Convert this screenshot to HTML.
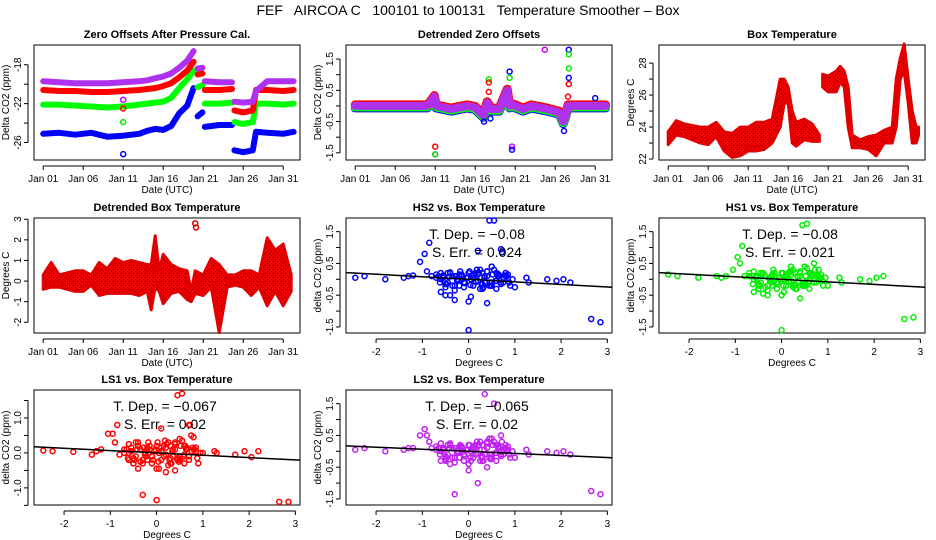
<!DOCTYPE html>
<html><head><meta charset="utf-8"><style>
body{margin:0;background:#fff}
svg{display:block;font-family:"Liberation Sans",sans-serif}
</style></head><body>
<svg id="c" width="936" height="540" xmlns="http://www.w3.org/2000/svg">
<defs>
<pattern id="dots" width="4" height="4" patternUnits="userSpaceOnUse"><rect width="4" height="4" fill="#e80000"/><rect x="1" y="1" width="1" height="1" fill="#300"/><rect x="3" y="3" width="1" height="1" fill="#600"/></pattern>
</defs>
<text x="468" y="15" font-size="14" text-anchor="middle" style="white-space:pre">FEF   AIRCOA C   100101 to 100131   Temperature Smoother – Box</text>
</svg>
<script>
// ---- Panel 1: zero offsets ----
const days1=[0,2,4,6,8,10,12,13,14,15,16,17,18,18.8,19.1,19.3,19.9,20.05,20.2,22,23.6,23.75,23.9,25,26.2,26.6,28,30,31.3];
const zoBlue=[-25.1,-25.0,-25.2,-25.0,-25.4,-25.3,-25.1,-24.8,-24.6,-24.7,-24.3,-23.0,-22.2,-20.4,null,-23.3,-22.9,null,-24.4,-24.2,-24.2,null,-26.8,-27.0,-26.8,-24.9,-25.0,-25.1,-24.9];
const zoGreen=[-22.1,-22.1,-22.2,-22.3,-22.4,-22.3,-22.1,-22.0,-21.9,-21.8,-21.4,-20.4,-19.5,-18.6,null,-20.3,-20.1,null,-22.0,-22.0,-21.9,null,-23.9,-24.1,-23.9,-22.0,-22.0,-22.1,-22.0];
const zoRed=[-20.6,-20.7,-20.7,-20.8,-20.8,-20.7,-20.6,-20.5,-20.4,-20.2,-19.9,-19.3,-18.6,-17.7,null,-19.0,-18.9,null,-20.6,-20.6,-20.5,null,-22.7,-22.9,-22.7,-20.6,-20.6,-20.7,-20.6];
const zoMag=[-19.7,-19.8,-19.9,-19.9,-19.9,-19.8,-19.7,-19.6,-19.4,-19.2,-18.9,-18.3,-17.6,-16.6,null,-18.4,-18.3,null,-19.7,-19.8,-19.8,null,-21.8,-21.9,-21.8,-20.7,-19.7,-19.7,-19.7];
const zoOutDay=[10,10,10,10];
const zoOutVal=[-27.2,-23.9,-22.5,-21.6];
// ---- Panel 2: detrended zero offsets ----
const days2=[0,2,4,6,8,9,9.5,9.9,10.1,12,14,15,16,16.5,17,18,18.5,19,19.3,19.5,20,21,22,24,25.5,26,26.3,26.6,27,29,31.3];
const detMag=[0,0,0,0,0,0,0.15,0.3,0,-0.1,0,-0.05,-0.3,0.1,-0.1,-0.1,0.2,0.5,0,0.05,0,-0.1,0,-0.1,-0.2,-0.5,-0.3,0,0,0,0];
const detSpikeDay=[10,10,16.1,16.7,16.7,16.7,16.9,19.3,19.3,19.6,19.6,23.7,26.7,26.7,26.7,26.7,26.7,26.6,26.1,30];
const detSpikeVal=[-1.3,-1.55,-0.5,0.85,0.75,0.45,-0.4,1.1,0.9,-1.3,-1.4,1.8,1.8,1.65,1.2,0.9,0.7,0.3,-0.8,0.25];
const detSpikeCol=["#f00","#0c0","#00f","#0e0","#f00","#f00","#00f","#00f","#0e0","#c0f","#00f","#c0f","#00f","#0e0","#0e0","#00f","#f00","#f00","#00f","#00f"];
// ---- Panel 3: box temperature (daily range) ----
const days3=[0,1,2,3,4,5,6,7,8,9,10,11,12,13,14,14.5,15,15.5,16,17,18,18.9,19.1,19.3,20,21,21.5,22,22.5,23,24,25,26,27,28,28.5,29,29.5,30,30.5,31,31.3];
const boxLo=[22.9,23.5,23.4,23.2,23.0,22.9,23.4,22.5,22.1,22.2,22.5,22.5,22.6,23.0,24.0,25.5,25.5,23.0,22.8,23.2,23.1,23.1,null,26.5,26.2,26.2,26.8,26.5,24.0,22.7,22.7,22.6,22.2,23.0,23.0,24.0,27.0,27.5,25.5,23.0,23.0,23.5];
const boxHi=[23.7,24.4,24.2,24.1,24.0,24.0,24.3,23.7,23.6,24.0,24.0,24.3,24.3,24.5,27.0,27.0,26.5,25.0,24.3,24.5,24.2,23.5,null,27.3,27.2,27.5,27.8,27.5,26.5,23.5,23.2,23.4,23.5,23.8,24.0,27.0,28.3,29.2,27.0,25.0,24.0,24.0];
// ---- Panel 4: detrended box temperature ----
const days4=[0,1,2,3,4,5,6,7,8,9,10,11,12,13,13.5,14,14.5,15,16,17,18,18.5,19,20,21,22,23,24,25,26,27,28,29,30,31];
const dbtLo=[-0.4,-0.3,-0.3,-0.4,-0.5,-0.5,-0.2,-0.7,-0.6,-0.6,-0.6,-0.6,-0.7,-0.5,-1.4,-0.3,-0.5,-1.1,-0.6,-0.5,-0.9,-1.0,-0.6,-0.7,-0.3,-2.5,-0.3,-0.2,-0.3,-0.7,-0.3,-1.2,-0.5,-1.2,-0.5];
const dbtHi=[0.3,0.9,0.3,0.4,0.5,0.5,0.3,0.9,0.6,1.1,0.9,1.0,0.9,0.8,0.8,2.2,0.5,1.3,0.8,0.6,0.5,-0.5,0.5,0.3,1.1,0.8,0.3,0.3,0.5,0.5,0.3,2.1,1.5,1.8,0.3];
const dbtSpikeDay=[19,19.1];
const dbtSpikeVal=[2.8,2.6];
// ---- Scatter panels ----
const boxDev=[-2.45,-2.25,-1.8,-1.4,-1.3,-1.2,-1.05,-0.95,-0.9,-0.85,-0.8,-0.7,-0.6,-0.55,-0.5,-0.45,-0.4,-0.35,-0.3,-0.25,-0.2,-0.15,-0.1,-0.05,0,0.05,0.1,0.15,0.2,0.25,0.3,0.35,0.4,0.45,0.5,0.55,0.6,0.65,0.7,0.75,0.8,0.85,0.9,1.0,1.25,1.3,1.7,1.9,2.05,2.2,2.65,2.85,0,-0.3,0.45,0.2,-0.6,0.3,0.5,-0.45,0.1,0.72,0.85,-0.2,0.4,0.6,-0.65,-0.5,-0.4,-0.3,-0.2,-0.1,0,0.1,0.2,0.3,0.4,0.5,0.6,0.7,0.8,-0.55,-0.25,0.05,0.35,0.65];
const hs2=[0.05,0.1,0.0,0.05,0.1,0.12,0.55,0.8,0.25,1.15,0.1,0.15,-0.4,0.1,-0.5,0.2,-0.5,0.1,-0.65,0,-0.2,0.1,-0.1,0.05,-0.7,-0.55,0.15,0.2,0.9,0.3,-0.3,0.1,-0.75,1.85,0.4,1.85,-0.3,0.15,0.95,-0.1,0.2,0.05,-0.2,-0.25,0.05,-0.1,0,-0.05,0,-0.1,-1.25,-1.35,-1.6,-0.35,-0.2,-0.05,0,0.2,-0.1,-0.1,0.05,0.85,0.15,0.15,0.1,-0.05,0.1,-0.15,0.2,-0.2,0.1,-0.1,0.2,-0.2,0.15,-0.15,0.25,-0.2,0.2,-0.1,0.1,0.05,-0.05,0.0,-0.1,0.1];
const hs1=[0.15,0.1,0.05,0.1,0.05,0.1,0.3,0.7,0.5,1.05,0.1,0.2,-0.4,0.1,-0.3,0.2,-0.45,0.1,-0.5,0,-0.2,0.1,-0.1,0.05,-0.5,-0.4,0.15,0.2,0.4,0.3,-0.3,0.1,-0.6,1.7,0.4,1.75,-0.3,0.15,0.5,-0.1,0.3,0.05,-0.2,-0.2,0.05,-0.1,0,-0.05,0.05,0.1,-1.25,-1.2,-1.6,-0.35,-0.2,-0.05,0,0.2,-0.1,-0.1,0.05,0.3,0.15,0.15,0.1,-0.05,0.1,-0.15,0.2,-0.2,0.1,-0.1,0.2,-0.2,0.15,-0.15,0.25,-0.2,0.2,-0.1,0.1,0.05,-0.05,0.0,-0.1,0.1];
const ls1=[0.07,0.05,0.03,-0.05,0.05,0.1,0.55,0.55,0.3,0.8,-0.05,0.1,-0.2,0.05,-0.3,0.3,-0.45,0.1,-0.3,0,-0.2,0.1,-0.1,0.05,-0.45,-0.45,0.7,0.2,-0.55,0.3,-0.3,0.1,-0.5,1.65,0.4,1.7,-0.3,0.15,0.8,0.5,0.45,0.05,-0.3,0.0,0.05,0.0,-0.05,0.05,-0.12,0.05,-1.4,-1.4,-1.35,-1.2,-0.2,-0.05,0,0.2,-0.1,-0.1,0.05,0.8,0.15,0.15,0.1,-0.05,0.1,-0.15,0.2,-0.2,0.1,-0.1,0.2,-0.2,0.15,-0.15,0.25,-0.2,0.2,-0.1,0.1,0.05,-0.05,0.0,-0.1,0.1];
const ls2=[0.05,0.1,0.0,0.05,0.1,0.1,0.5,0.7,0.5,0.3,0.1,0.15,-0.3,0.1,-0.3,0.2,-0.4,0.1,-0.35,0,-0.2,0.1,-0.1,0.05,-0.4,-0.3,0.15,0.2,-1.0,0.3,-0.3,1.8,-0.5,0.4,0.4,1.5,-0.3,0.15,0.5,-0.1,0.2,0.05,-0.2,-0.2,0.05,-0.1,0,-0.05,0,-0.1,-1.25,-1.35,-0.6,-1.35,-0.2,-0.05,0,0.2,-0.1,-0.1,0.05,0.3,0.15,0.15,0.1,-0.05,0.1,-0.15,0.2,-0.2,0.1,-0.1,0.2,-0.2,0.15,-0.15,0.25,-0.2,0.2,-0.1,0.1,0.05,-0.05,0.0,-0.1,0.1];
// dense core of the scatter clouds
const coreDev=[-0.7,-0.62,-0.55,-0.48,-0.42,-0.35,-0.28,-0.22,-0.15,-0.08,-0.02,0.04,0.1,0.16,0.22,0.28,0.34,0.4,0.46,0.52,0.58,0.64,0.7,0.76,0.82,0.88,0.95,-0.6,-0.4,-0.18,0.02,0.18,0.32,0.48,0.62,0.78,-0.5,-0.1,0.25,0.55];
const coreHs2=[0.05,-0.1,0.12,-0.15,0.08,-0.2,0.1,-0.05,0.15,-0.12,0.05,-0.18,0.12,-0.08,0.2,-0.15,0.05,0.25,-0.1,0.15,-0.05,0.1,-0.15,0.05,0.1,-0.1,0.0,0.2,0.22,0.25,0.25,0.3,-0.25,-0.2,0.18,0.12,-0.25,-0.25,-0.3,0.3];
const coreHs1=[0.1,-0.15,0.05,-0.2,0.15,-0.25,0.05,-0.1,0.2,-0.15,0.0,-0.2,0.1,-0.1,0.25,-0.2,0.1,0.2,-0.15,0.1,-0.1,0.15,-0.1,0.1,0.05,-0.05,0.05,0.25,0.2,0.3,0.2,0.25,-0.3,-0.2,0.2,0.15,-0.3,-0.3,-0.25,0.35];
const coreLs1=[0.0,-0.15,0.15,-0.2,0.1,-0.25,0.15,-0.1,0.2,-0.2,0.1,-0.25,0.15,-0.1,0.25,-0.2,0.05,0.3,-0.15,0.2,-0.1,0.1,-0.2,0.05,0.1,-0.15,0.0,0.25,0.3,0.3,0.3,0.35,-0.3,-0.25,0.2,0.15,-0.3,-0.3,-0.35,0.35];
const coreLs2=[0.05,-0.1,0.1,-0.2,0.1,-0.2,0.1,-0.05,0.15,-0.15,0.05,-0.2,0.1,-0.1,0.2,-0.2,0.05,0.3,-0.1,0.2,-0.05,0.1,-0.15,0.05,0.05,-0.1,0.0,0.25,0.25,0.2,0.2,0.3,-0.3,-0.25,0.2,0.1,-0.25,-0.3,-0.3,0.3];
const slopes=[-0.08,-0.08,-0.067,-0.065];
const serrs=["0.024","0.021","0.02","0.02"];
const dayTicks=[0,5,10,15,20,25,30];
const dayLabels=["Jan 01","Jan 06","Jan 11","Jan 16","Jan 21","Jan 26","Jan 31"];

const svg=document.getElementById('c');
const NS='http://www.w3.org/2000/svg';
function mk(tag,attrs,parent){const e=document.createElementNS(NS,tag);for(const k in attrs)e.setAttribute(k,attrs[k]);(parent||svg).appendChild(e);return e;}
const COLS=[34,346,659],ROWS=[45,218,390],W=266,H=115;
function scale(d0,d1,r0,r1){return v=>r0+(v-d0)/(d1-d0)*(r1-r0);}
function panel(name,col,row,title,xd,yd,xticks,xlabels,yticks,ylabels,xtitle,ytitle){
  const x0=COLS[col],y0=ROWS[row];
  const g=mk('g',{});
  
  
  const xs=scale(xd[0],xd[1],x0,x0+W),ys=scale(yd[0],yd[1],y0+H,y0);
  const box=mk('rect',{x:x0,y:y0,width:W,height:H,fill:'none',stroke:'#000','stroke-width':1},g);
  
  
  const t=mk('text',{x:x0+W/2,y:y0-7,'font-size':11,'font-weight':'bold','text-anchor':'middle'},g);t.textContent=title;
  
  
  const xa=mk('g',{},g);
  
  
  mk('line',{x1:xs(xticks[0]),x2:xs(xticks[xticks.length-1]),y1:y0+H+6,y2:y0+H+6,stroke:'#000'},xa);
  xticks.forEach((v,i)=>{mk('line',{x1:xs(v),x2:xs(v),y1:y0+H+6,y2:y0+H+10,stroke:'#000'},xa);
    const l=mk('text',{x:xs(v),y:y0+H+22,'font-size':10,'text-anchor':'middle'},xa);l.textContent=xlabels[i];});
  const xt=mk('text',{x:x0+W/2,y:y0+H+33,'font-size':10,'text-anchor':'middle'},g);xt.textContent=xtitle;
  
  
  const ya=mk('g',{},g);
  
  
  mk('line',{x1:x0-6,x2:x0-6,y1:ys(yticks[0]),y2:ys(yticks[yticks.length-1]),stroke:'#000'},ya);
  yticks.forEach((v,i)=>{mk('line',{x1:x0-10,x2:x0-6,y1:ys(v),y2:ys(v),stroke:'#000'},ya);
    if(ylabels[i]){const l=mk('text',{x:x0-13,y:ys(v),'font-size':10,'text-anchor':'middle',transform:`rotate(-90 ${x0-13} ${ys(v)})`},ya);l.textContent=ylabels[i];}});
  const yt=mk('text',{x:x0-25,y:y0+H/2,'font-size':10,'text-anchor':'middle',transform:`rotate(-90 ${x0-25} ${y0+H/2})`},g);yt.textContent=ytitle;
  
  
  return {g,xs,ys};
}
function line(p,xv,yv,color,w,dy,name){
  let segs=[],cur=[];
  xv.forEach((x,i)=>{if(yv[i]==null){if(cur.length)segs.push(cur);cur=[];}else cur.push(p.xs(x).toFixed(1)+','+(p.ys(yv[i])+(dy||0)).toFixed(1));});
  if(cur.length)segs.push(cur);
  segs.forEach(s=>{const pl=mk('polyline',{points:s.join(' '),fill:'none',stroke:color,'stroke-width':w,'stroke-linejoin':'round','stroke-linecap':'round'},p.g);
    
    });
}
function band(p,xv,lo,hi,name){
  let segs=[],cur=[];
  xv.forEach((x,i)=>{if(lo[i]==null){if(cur.length)segs.push(cur);cur=[];}else cur.push(i);});
  if(cur.length)segs.push(cur);
  segs.forEach(s=>{const pts=s.map(i=>p.xs(xv[i]).toFixed(1)+','+p.ys(hi[i]).toFixed(1)).concat(s.slice().reverse().map(i=>p.xs(xv[i]).toFixed(1)+','+p.ys(lo[i]).toFixed(1)));
    const pg=mk('polygon',{points:pts.join(' '),fill:'url(#dots)',stroke:'#e00000','stroke-width':3,'stroke-linejoin':'round'},p.g);
    
    });
}
function pts(p,xv,yv,color,name){
  xv.forEach((x,i)=>{const c=mk('circle',{cx:p.xs(x),cy:p.ys(yv[i]),r:2.5,fill:'none',stroke:Array.isArray(color)?color[i]:color,'stroke-width':1.5},p.g);
    
    });
}
const TD=[-1.15,32.1];
// Panel 1
let p=panel('zero-offsets-panel',0,0,'Zero Offsets After Pressure Cal.',TD,[-27.8,-15.97],dayTicks,dayLabels,[-26,-24,-22,-20,-18],['-26','','-22','','-18'],'Date (UTC)','Delta CO2 (ppm)');
line(p,days1,zoBlue,'#0000ff',6,0,'series-hs2');
line(p,days1,zoGreen,'#00ff00',6,0,'series-hs1');
line(p,days1,zoRed,'#ff0000',6,0,'series-ls1');
line(p,days1,zoMag,'#b030f0',6,0,'series-ls2');
pts(p,zoOutDay,zoOutVal,['#00f','#0e0','#f00','#c0f'],'outlier-point');
// Panel 2
const SY=[-1.69,1.93],YT=[-1.5,-1,-0.5,0,0.5,1,1.5],YL=['-1.5','','-0.5','','0.5','','1.5'];
p=panel('detrended-zero-offsets-panel',1,0,'Detrended Zero Offsets',TD,[-1.73,1.95],dayTicks,dayLabels,YT,YL,'Date (UTC)','Delta CO2 (ppm)');
line(p,days2,detMag,'#0000ff',9,2,'series-hs2');
line(p,days2,detMag,'#00ff00',9,1,'series-hs1');
line(p,days2,detMag,'#ff0000',9,-1,'series-ls1');
line(p,days2,detMag,'#b030f0',8,0,'series-ls2');
pts(p,detSpikeDay,detSpikeVal,detSpikeCol,'spike-point');
// Panel 3
p=panel('box-temperature-panel',2,0,'Box Temperature',TD,[21.94,29.13],dayTicks,dayLabels,[22,23,24,25,26,27,28],['22','','24','','26','','28'],'Date (UTC)','Degrees C');
band(p,days3,boxLo,boxHi,'box-temp-series');
// Panel 4
p=panel('detrended-box-temp-panel',0,1,'Detrended Box Temperature',TD,[-2.52,3.06],dayTicks,dayLabels,[-2,-1,0,1,2,3],['-2','-1','0','1','2','3'],'Date (UTC)','Degrees C');
band(p,days4,dbtLo,dbtHi,'detrended-box-temp-series');
pts(p,dbtSpikeDay,dbtSpikeVal,'#e00000','spike-point');
// Scatter panels
const XD=[-2.65,3.1],XT=[-2,-1,0,1,2,3],XL=['-2','-1','0','1','2','3'];
function scatter(name,col,row,title,yv,cy,color,yd,yt,yl,k){
  const q=panel(name,col,row,title,XD,yd,XT,XL,yt,yl,'Degrees C','delta CO2 (ppm)');
  pts(q,boxDev,yv,color,'scatter-point');
  pts(q,coreDev,cy,color,'scatter-point');
  const rl=mk('line',{x1:q.xs(XD[0]),x2:q.xs(XD[1]),y1:q.ys(slopes[k]*XD[0]),y2:q.ys(slopes[k]*XD[1]),stroke:'#000','stroke-width':1.5},q.g);
  
  
  const cx=COLS[col]+W/2-2,ty=ROWS[row];
  const a=mk('text',{x:cx,y:ty+21,'font-size':14,'text-anchor':'middle'},q.g);a.textContent='T. Dep. =  '+String(slopes[k]).replace('-','\u2212');
  
  
  const b=mk('text',{x:cx,y:ty+39,'font-size':14,'text-anchor':'middle'},q.g);b.textContent='S. Err. =  '+serrs[k];
  
  
}
scatter('hs2-scatter-panel',1,1,'HS2 vs. Box Temperature',hs2,coreHs2,'#0000ff',SY,YT,YL,0);
scatter('hs1-scatter-panel',2,1,'HS1 vs. Box Temperature',hs1,coreHs1,'#00ee00',SY,YT,YL,1);
scatter('ls1-scatter-panel',0,2,'LS1 vs. Box Temperature',ls1,coreLs1,'#ff0000',[-1.49,1.8],[-1.5,-1,-0.5,0,0.5,1,1.5],['','-1.0','','0.0','','1.0',''],2);
scatter('ls2-scatter-panel',1,2,'LS2 vs. Box Temperature',ls2,coreLs2,'#c020f0',SY,YT,YL,3);
</script>
</body></html>
